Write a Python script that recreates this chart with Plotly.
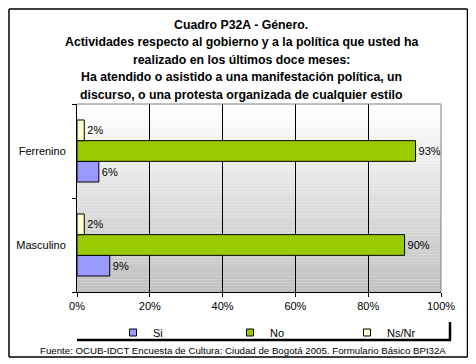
import plotly.graph_objects as go

categories = ["Masculino", "Ferrenino"]
series_names = ["Si", "No", "Ns/Nr"]
si_values = [9, 6]
no_values = [90, 93]
nsnr_values = [2, 2]
x_ticks = [0, 20, 40, 60, 80, 100]
x_tick_labels = ["0%", "20%", "40%", "60%", "80%", "100%"]
title_lines = [
    "Cuadro P32A - Género.",
    "Actividades respecto al gobierno y a la política que usted ha",
    "realizado en los últimos doce meses:",
    "Ha atendido o asistido a una manifestación política, un",
    "discurso, o una protesta organizada de cualquier estilo",
]
source_text = "Fuente: OCUB-IDCT Encuesta de Cultura: Ciudad de Bogotá 2005. Formulario Básico BPI32A"

colors = ["#9999FF", "#99CC00", "#FFFFCC"]
values = [si_values, no_values, nsnr_values]

# page body has an 8px margin: build the figure in reference pixel coords shifted by OFF
OFF = 8
W, H = 476 - OFF, 364 - OFF
# plot area in reference pixel coordinates
RL, RR, RT, RB = 77, 441, 104, 292
FONT = "Liberation Sans"

def px(x):
    return (x - RL) / (RR - RL)

def py(y):
    return (RB - y) / (RB - RT)

fig = go.Figure()
for name, vals, col in zip(series_names, values, colors):
    fig.add_trace(go.Bar(
        y=categories, x=vals, name=name, orientation="h",
        marker=dict(color=col, line=dict(color="black", width=1)),
        text=[f"{v}%" for v in vals], textposition="outside",
        textfont=dict(family=FONT, size=11, color="black"),
        cliponaxis=False, showlegend=False, hoverinfo="skip",
    ))
# legend entries
for name, col in zip(series_names, colors):
    fig.add_trace(go.Scatter(
        x=[None], y=[None], mode="markers", name=name,
        marker=dict(symbol="square", size=7, color=col, line=dict(color="black", width=1)),
    ))

shapes = []
# gradient background
n = 60
for i in range(n):
    t = i / (n - 1)
    c = int(round(255 - (255 - 192) * t))
    shapes.append(dict(type="rect", xref="paper", yref="paper",
                       x0=0, x1=1, y0=1 - (i + 1) / n, y1=1 - i / n,
                       fillcolor=f"rgb({c},{c},{c})", line=dict(width=0), layer="below"))
# gray border top and right
shapes.append(dict(type="line", xref="paper", yref="paper", x0=0, x1=1, y0=1, y1=1,
                   line=dict(color="#808080", width=1), layer="above"))
shapes.append(dict(type="line", xref="paper", yref="paper", x0=1, x1=1, y0=0, y1=1,
                   line=dict(color="#808080", width=1), layer="above"))
# outer frame (left/top edges pulled inside the visible page)
fl, fr, ft, fb = 9, 467.5, 9, 357
frame = dict(color="black", width=1.5)
shapes += [
    dict(type="line", xref="paper", yref="paper", x0=px(fl), x1=px(fr), y0=py(ft), y1=py(ft), line=frame),
    dict(type="line", xref="paper", yref="paper", x0=px(fl), x1=px(fr), y0=py(fb), y1=py(fb), line=frame),
    dict(type="line", xref="paper", yref="paper", x0=px(fl), x1=px(fl), y0=py(ft), y1=py(fb), line=frame),
    dict(type="line", xref="paper", yref="paper", x0=px(fr), x1=px(fr), y0=py(ft), y1=py(fb), line=frame),
]
# legend shadow
shapes.append(dict(type="line", xref="paper", yref="paper", x0=px(77), x1=px(451),
                   y0=py(340), y1=py(340), line=dict(color="black", width=2.5)))
shapes.append(dict(type="line", xref="paper", yref="paper", x0=px(450), x1=px(450),
                   y0=py(322), y1=py(340.5), line=dict(color="black", width=2.5)))

annotations = []
title_y = [25, 42, 60, 77, 95]
for line, yy in zip(title_lines, title_y):
    annotations.append(dict(text=f"<b>{line}</b>", xref="paper", yref="paper",
                            x=px(241), y=py(yy), showarrow=False,
                            xanchor="center", yanchor="middle",
                            font=dict(family=FONT, size=12.3, color="black")))
annotations.append(dict(text=source_text, xref="paper", yref="paper",
                        x=px(243), y=py(350), showarrow=False,
                        xanchor="center", yanchor="middle",
                        font=dict(family=FONT, size=9.7, color="black")))

fig.update_layout(
    width=W, height=H,
    margin=dict(l=RL - OFF, r=476 - RR, t=RT - OFF, b=364 - RB, pad=0, autoexpand=False),
    paper_bgcolor="white", plot_bgcolor="white",
    barmode="group", bargap=0.34, bargroupgap=0,
    font=dict(family=FONT, size=11, color="black"),
    xaxis=dict(range=[0, 100], tickvals=x_ticks, ticktext=x_tick_labels,
               showgrid=True, gridcolor="black", gridwidth=1,
               showline=True, linecolor="black", linewidth=1,
               ticks="outside", ticklen=4, tickcolor="black",
               zeroline=False, fixedrange=True, automargin=False,
               tickfont=dict(family=FONT, size=11)),
    yaxis=dict(type="category", categoryorder="array", categoryarray=categories,
               showgrid=False, showline=True, linecolor="black", linewidth=1,
               ticks="outside", ticklen=4, tickcolor="black", tickson="boundaries",
               ticklabelstandoff=8, fixedrange=True, automargin=False,
               tickfont=dict(family=FONT, size=11)),
    legend=dict(orientation="h", xref="container", yref="container",
                x=(113 - OFF) / W, y=1 - (318 - OFF) / H, xanchor="left", yanchor="top",
                entrywidth=72, entrywidthmode="pixels", bgcolor="rgba(0,0,0,0)",
                font=dict(family=FONT, size=11), itemclick=False, itemdoubleclick=False,
                tracegroupgap=0, itemwidth=30),
    shapes=shapes,
    annotations=annotations,
    showlegend=True,
)

fig.write_html("out.html")
